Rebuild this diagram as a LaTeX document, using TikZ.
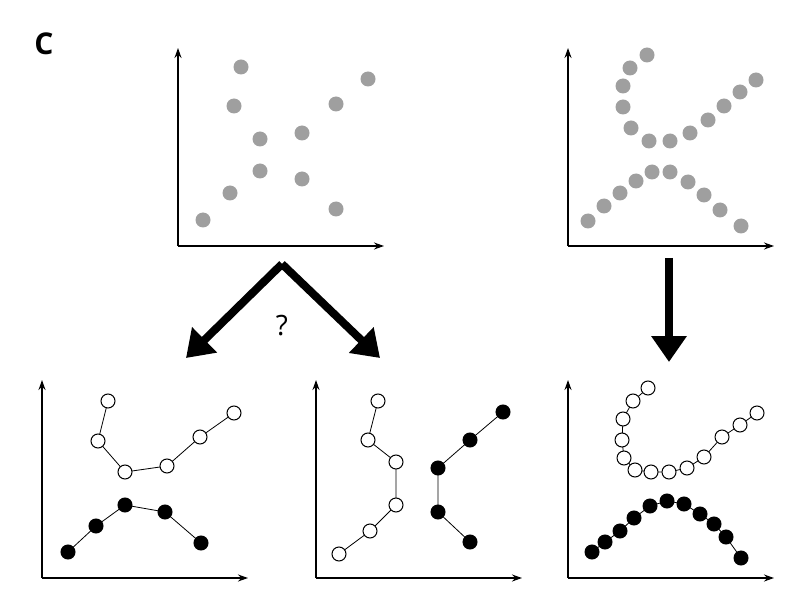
\documentclass[tikz,border=0pt]{standalone}
\usepackage{fontspec}
\setmainfont{Open Sans}
\usetikzlibrary{arrows.meta}
\begin{document}
\begin{tikzpicture}[x=1pt,y=-1pt,
  ax/.style={line width=1.6pt,-{Stealth[length=10pt,width=7pt]}},
  gd/.style={circle,fill=gray!75,minimum size=15pt,inner sep=0},
  wd/.style={circle,draw,fill=white,line width=1pt,minimum size=14pt,inner sep=0},
  bd/.style={circle,draw,fill=black,line width=1pt,minimum size=14pt,inner sep=0},
  ln/.style={line width=0.8pt},
  big/.style={line width=8pt,-{Triangle[length=26pt,width=34pt]}}]
\useasboundingbox (0,0) rectangle (799,609);
\node[font=\bfseries\fontsize{30}{30}\selectfont] (lab) at (44,44) {C};
% axes
\foreach \n/\ox/\oy in {a/178/246,b/568/246,c/42/578,d/316/578,e/568/578}{
  \coordinate (\n o) at (\ox,\oy);
  \draw[ax] (\n o) -- ++(0,-198);
  \draw[ax] (\n o) -- ++(206,0);
}
% top-left gray
\foreach \p [count=\i] in {(203,220),(230,193),(260,171),(260,139),(234,106),(241,67),(302,179),(302,133),(336,104),(368,79),(336,209)}
  \node[gd] (g\i) at \p {};
% top-right gray
\foreach \p [count=\i] in {(647,55),(630,68),(623,86),(623,107),(631,128),(649,141),(670,141),(690,133),(708,120),(724,106),(740,92),(756,80),
 (588,221),(604,206),(620,193),(636,181),(652,172),(670,172),(688,182),(704,195),(720,210),(741,226)}
  \node[gd] (h\i) at \p {};
% big arrows
\coordinate (apex) at (282,264);
\coordinate (lt) at (186,358);
\coordinate (rt) at (380,358);
\draw[big,line join=miter] (apex) -- (lt);
\draw[big] (apex) -- (rt);
\node[font=\fontsize{28}{28}\selectfont] (q) at (282,326) {?};
\coordinate (ds) at (669,258);
\coordinate (de) at (669,362);
\draw[big] (ds) -- (de);
% bottom-left
\draw[ln] (108,401)--(98,441)--(125,472)--(167,466)--(200,437)--(234,413);
\draw[ln] (68,552)--(96,526)--(125,505)--(165,512)--(201,543);
\foreach \p [count=\i] in {(108,401),(98,441),(125,472),(167,466),(200,437),(234,413)} \node[wd] (cw\i) at \p {};
\foreach \p [count=\i] in {(68,552),(96,526),(125,505),(165,512),(201,543)} \node[bd] (cb\i) at \p {};
% bottom-middle
\draw[ln] (378,401)--(368,440)--(396,462)--(396,505)--(370,531)--(339,554);
\draw[ln] (503,412)--(470,440)--(438,468)--(438,512)--(470,542);
\foreach \p [count=\i] in {(378,401),(368,440),(396,462),(396,505),(370,531),(339,554)} \node[wd] (dw\i) at \p {};
\foreach \p [count=\i] in {(503,412),(470,440),(438,468),(438,512),(470,542)} \node[bd] (db\i) at \p {};
% bottom-right
\draw[ln] (648,388)--(633,401)--(623,419)--(622,440)--(624,458)--(635,470)--(651,472)--(669,472)--(687,468)--(704,457)--(722,437)--(740,425)--(757,413);
\draw[ln] (592,552)--(605,542)--(620,531)--(634,518)--(650,506)--(667,501)--(684,504)--(700,514)--(714,524)--(726,537)--(741,558);
\foreach \p [count=\i] in {(648,388),(633,401),(623,419),(622,440),(624,458),(635,470),(651,472),(669,472),(687,468),(704,457),(722,437),(740,425),(757,413)} \node[wd] (ew\i) at \p {};
\foreach \p [count=\i] in {(592,552),(605,542),(620,531),(634,518),(650,506),(667,501),(684,504),(700,514),(714,524),(726,537),(741,558)} \node[bd] (eb\i) at \p {};
\end{tikzpicture}
\end{document}
